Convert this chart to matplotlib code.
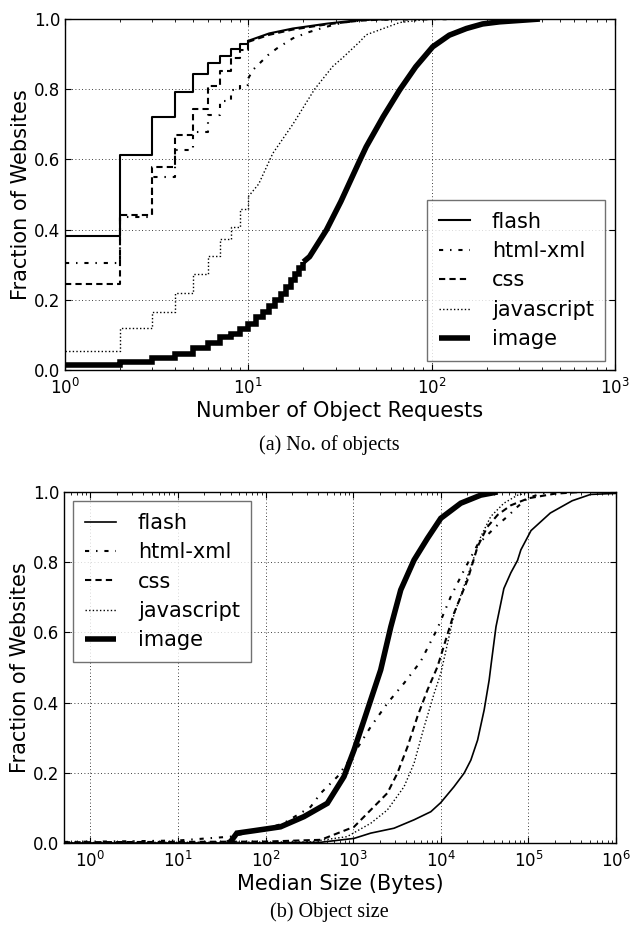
import matplotlib
matplotlib.use("Agg")
import matplotlib.pyplot as plt
import numpy as np

plt.rcParams['font.family'] = ['DejaVu Sans']

# ---------------- (a) Number of object requests (step CDFs at integer counts) ----------
counts = [1, 2, 3, 4, 5, 6, 7, 8, 9, 10]
flash_a_steps = [0.383, 0.613, 0.722, 0.791, 0.843, 0.874, 0.895, 0.916, 0.930, 0.938]
flash_a_tail_x = [10, 13, 17.5, 27, 40, 60, 100]
flash_a_tail_y = [0.938, 0.959, 0.973, 0.987, 0.997, 1.0, 1.0]

html_a_steps = [0.306, 0.436, 0.550, 0.627, 0.679, 0.726, 0.767, 0.798, 0.812, 0.831]
html_a_tail_x = [10, 10.6, 12.8, 14.3, 17.5, 21.2, 26.7, 33, 45, 150]
html_a_tail_y = [0.831, 0.855, 0.897, 0.916, 0.945, 0.962, 0.978, 0.990, 0.998, 1.0]

css_a_steps = [0.244, 0.441, 0.579, 0.670, 0.743, 0.809, 0.853, 0.888, 0.912, 0.935]
css_a_tail_x = [10, 13, 17.5, 27, 40, 60, 120]
css_a_tail_y = [0.935, 0.955, 0.970, 0.985, 0.995, 1.0, 1.0]

js_a_steps = [0.055, 0.121, 0.164, 0.220, 0.273, 0.325, 0.372, 0.408, 0.458, 0.494]
js_a_tail_x = [10, 11.4, 13.6, 17.5, 19, 23, 28.9, 32.8, 40.5, 44, 67, 97, 200]
js_a_tail_y = [0.494, 0.53, 0.617, 0.70, 0.73, 0.80, 0.865, 0.89, 0.935, 0.955, 0.99, 1.0, 1.0]

image_counts = [1, 2, 3, 4, 5, 6, 7, 8, 9, 10, 11, 12, 13, 14, 15, 16, 17, 18, 19, 20]
image_a_steps = [0.014, 0.024, 0.035, 0.046, 0.062, 0.076, 0.093, 0.104, 0.116, 0.131,
                 0.150, 0.165, 0.182, 0.200, 0.218, 0.237, 0.256, 0.275, 0.292, 0.308]
image_a_tail_x = [20, 21.6, 26.7, 32, 40, 44, 54.5, 67, 82, 101.5, 125, 155, 190, 235, 390]
image_a_tail_y = [0.308, 0.323, 0.399, 0.48, 0.59, 0.636, 0.722, 0.798, 0.864, 0.921,
                  0.954, 0.973, 0.986, 0.992, 1.0]

# ---------------- (b) Median object size (smooth CDFs) ---------------------------------
flash_b_x = [0.5, 100, 427, 1023, 1585, 2924, 4955, 7691, 10000, 14125, 18493, 22029,
             26303, 31261, 35645, 37584, 42658, 52481, 63096, 75162, 82035, 107152,
             177828, 316228, 512861, 1000000]
flash_b_y = [0.0, 0.0, 0.002, 0.013, 0.028, 0.042, 0.066, 0.089, 0.115, 0.16, 0.199, 0.236,
             0.293, 0.379, 0.464, 0.51, 0.616, 0.725, 0.77, 0.805, 0.835, 0.89,
             0.94, 0.975, 0.993, 0.996]

html_b_x = [0.5, 3.2, 10, 31, 40, 87, 158, 251, 327, 427, 661, 1023, 1585, 2455, 3802,
            5888, 9120, 13002, 18493, 26303, 44463, 57544, 75162, 97724, 141254, 316228]
html_b_y = [0.003, 0.005, 0.007, 0.016, 0.018, 0.037, 0.055, 0.085, 0.103, 0.142, 0.189,
            0.255, 0.331, 0.398, 0.455, 0.517, 0.61, 0.702, 0.778, 0.85, 0.906, 0.93,
            0.958, 0.982, 0.996, 1.0]

css_b_x = [0.5, 100, 427, 1023, 1585, 2455, 3199, 4169, 5408, 7047, 9162, 14125, 20184,
           26303, 33884, 44668, 63096, 100000, 199526, 398107]
css_b_y = [0.002, 0.004, 0.009, 0.046, 0.094, 0.142, 0.199, 0.274, 0.36, 0.436, 0.502,
           0.654, 0.749, 0.844, 0.90, 0.935, 0.962, 0.982, 0.995, 1.0]

js_b_x = [0.5, 316, 851, 1585, 2455, 3802, 4955, 6457, 8395, 10000, 14125, 22029, 28642,
          37154, 52481, 75336, 100000, 199526]
js_b_y = [0.001, 0.003, 0.018, 0.056, 0.094, 0.16, 0.227, 0.331, 0.426, 0.483, 0.65,
          0.787, 0.873, 0.93, 0.968, 0.991, 0.998, 1.0]

image_b_x = [37, 40, 47, 74, 148, 274, 507, 785, 1023, 1330, 1730, 2060, 2690, 3490, 4950,
             7050, 10000, 16900, 28600, 44500]
image_b_y = [0.0, 0.004, 0.028, 0.035, 0.046, 0.075, 0.113, 0.189, 0.265, 0.350, 0.436,
             0.493, 0.616, 0.721, 0.806, 0.868, 0.925, 0.968, 0.991, 1.0]

labels = ['flash', 'html-xml', 'css', 'javascript', 'image']
yticks = [0.0, 0.2, 0.4, 0.6, 0.8, 1.0]
xticks_a = [1, 10, 100, 1000]
xticks_b = [1, 10, 100, 1e3, 1e4, 1e5, 1e6]

styles = {
    'flash': dict(color='black', lw=1.5, ls='-'),
    'html-xml': dict(color='black', lw=1.5, ls=(0, (2.0, 3.3, 0.7, 3.3))),
    'css': dict(color='black', lw=1.5, ls=(0, (3.0, 2.0))),
    'javascript': dict(color='black', lw=1.0, ls=(0, (1, 1.6))),
    'image': dict(color='black', lw=4.0, ls='-', solid_joinstyle='miter',
                  solid_capstyle='butt'),
}

fig = plt.figure(figsize=(6.4, 9.33), dpi=100)
ax1 = fig.add_axes([0.1016, 0.6034, 0.859, 0.3762])
ax2 = fig.add_axes([0.100, 0.0965, 0.8625, 0.3762])

LABEL_FS = 15
TICK_FS = 12


def style_axes(ax, xticks):
    ax.set_xscale('log')
    ax.set_xticks(xticks)
    ax.set_ylim(0, 1.0)
    ax.set_yticks(yticks)
    ax.set_yticklabels(['%.1f' % v for v in yticks])
    ax.tick_params(which='both', direction='in', top=True, right=True, labelsize=TICK_FS,
                   color='black')
    ax.tick_params(which='major', length=4, width=0.8)
    ax.tick_params(which='minor', length=2, width=0.6)
    ax.tick_params(axis='x', which='major', pad=6)
    ax.grid(True, which='major', color='black', ls=(0, (1, 3)), lw=0.6)
    for s in ax.spines.values():
        s.set_linewidth(1.0)
        s.set_color('black')
    ax.set_ylabel('Fraction of Websites', fontsize=LABEL_FS, labelpad=2)


def make_legend(ax, handles, loc):
    leg = ax.legend(handles, labels, loc=loc, fontsize=LABEL_FS, frameon=True,
                    fancybox=False, handlelength=1.5, borderaxespad=0.45,
                    labelspacing=0.45, handletextpad=1.05, borderpad=0.55)
    leg.get_frame().set_edgecolor('0.3')
    leg.get_frame().set_linewidth(1.0)
    return leg


series_a = [
    ('flash', flash_a_steps, counts, flash_a_tail_x, flash_a_tail_y),
    ('html-xml', html_a_steps, counts, html_a_tail_x, html_a_tail_y),
    ('css', css_a_steps, counts, css_a_tail_x, css_a_tail_y),
    ('javascript', js_a_steps, counts, js_a_tail_x, js_a_tail_y),
    ('image', image_a_steps, image_counts, image_a_tail_x, image_a_tail_y),
]
handles = []
for name, steps, cx, tx, ty in series_a:
    st = styles[name]
    h, = ax1.plot(cx, steps, drawstyle='steps-post', label=name, **st)
    ax1.plot(tx, ty, **st)
    handles.append(h)

style_axes(ax1, xticks_a)
ax1.set_xlim(1, 1000)
ax1.set_xlabel('Number of Object Requests', fontsize=LABEL_FS, labelpad=2)
make_legend(ax1, handles, 'lower right')

series_b = [
    ('flash', flash_b_x, flash_b_y),
    ('html-xml', html_b_x, html_b_y),
    ('css', css_b_x, css_b_y),
    ('javascript', js_b_x, js_b_y),
    ('image', image_b_x, image_b_y),
]
handles2 = []
for name, xs, ys in series_b:
    st = dict(styles[name])
    if name == 'flash':
        st['lw'] = 1.2
    h, = ax2.plot(xs, ys, label=name, **st)
    handles2.append(h)

style_axes(ax2, xticks_b)
ax2.set_xlim(0.5, 1e6)
ax2.set_xlabel('Median Size (Bytes)', fontsize=LABEL_FS, labelpad=2)
make_legend(ax2, handles2, 'upper left')

fig.text(0.514, 1 - 445 / 933, '(a) No. of objects', ha='center', va='center',
         fontsize=14.5, family=['Liberation Serif', 'DejaVu Serif'])
fig.text(0.514, 1 - 912 / 933, '(b) Object size', ha='center', va='center',
         fontsize=14.5, family=['Liberation Serif', 'DejaVu Serif'])

fig.savefig('out.png', dpi=100)
